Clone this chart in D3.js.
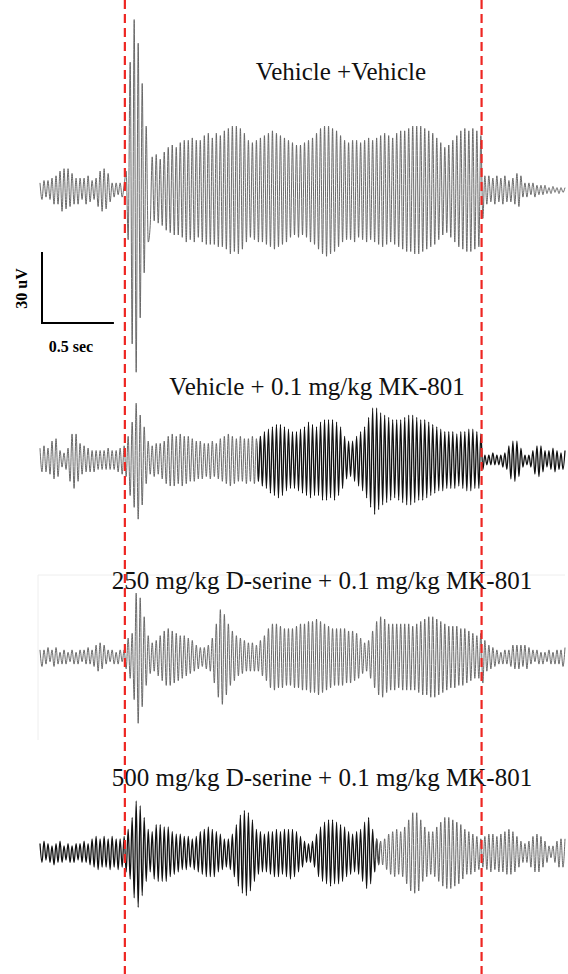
<!DOCTYPE html>
<html>
<head>
<meta charset="utf-8">
<script src="https://cdn.jsdelivr.net/npm/d3@7"></script>
<style>
  html, body { margin: 0; padding: 0; background: #fff; }
  svg { display: block; }
</style>
</head>
<body>
<svg id="chart" width="568" height="974"></svg>
<script>
// Recording window and stimulus timing (seconds)
const windowStart = 0;
const windowEnd = 3.65;
const stimOn = 0.59;
const stimOff = 3.07;

// Scale bar values
const scaleBarVolt = 30;   // uV
const scaleBarTime = 0.5;  // sec
const scaleBarVoltLabel = "30 uV";
const scaleBarTimeLabel = "0.5 sec";

const titles = [
  "Vehicle +Vehicle",
  "Vehicle + 0.1 mg/kg MK-801",
  "250 mg/kg D-serine + 0.1 mg/kg MK-801",
  "500 mg/kg D-serine + 0.1 mg/kg MK-801"
];

// Successive peaks and troughs of each EEG trace (uV), evenly spaced over the window
const vehVeh = [
  3,-4,4,-3,4,-4, 5,-6,6,-6, 8,-9,9,-8,9,-7,7, -6,5,-6,5,
  -4,5,-6,6,-5,4,-4,5, -7,8,-9,9,-8,7,-5, 3,-3,3,-2,3,-3,2,
  8,-21, 54,-65,72,-77,62,-54,45,-35,27,-22,
  -15,14,-13,15,-14,13,-15,16, -17,18,-18,19,-19,18,-19,20,
  -20,21,-22,21,-21,22,-22,21,-20,21, -22,23,-23,24,-23,22,-23,24,-24,23,-24,25,
  -25,26,-27,27,-26,27,-27,26,-25,24, -22,21,-20,20,-21,21,-22,22,-22,23,
  -23,24,-24,25,-25,24,-24,23,-23,22,-22,21,-20,
  20,-19,19,-20,19,-19,20,-20,21,-22,22,-23,
  24,-25,26,-27,27,-28,27,-27,26,-26,25,-24,23,
  -22,21,-21,20,-21,21,-22,21,-20,20,-21,21,-22,22,-21,21,-22,22,-23,23,
  -24,24,-23,23,-22,22,-23,24,-24,25,
  -25,25,-26,26,-26,27,-27,27,-27,27,-26,26,-25,25,-24,24,-23,22,-21,20,
  -19,18,-18,19,-20,21,-22,
  23,-24,25,-25,26,-26,25,-26,26,-25,25,-24,23,
  -12,6,
  -6,6,-5,5,-6,6,-5,5,-6,6,-5,4,-5,5,-6,
  7,-7,6,
  -3,3,-3,3,-2,3,-3,2,-2,2,-2,2,
  -1.5,1,-1.5,1.5,-1,1,-1.5,1,-1,1
];

const vehMK = [
  5,-5,6,-5,5,-6, 8,-8,9,-7, 4,-3,3,-4,5, -9,11,-12,11,-9,
  7,-6,6,-5,5,-5,4,-5,4,-4,4, -4,4,-4,5,-4,4,-4,4,-5,5, -6,6,-7,
  10,-15,16,-20,24,-25,19,-19,14,-10,8,
  -6,6,-7,7,-6,7,-8,8,
  -10,10,-11,11,-11,10,-10,11,-11,10,-10,10,-9,9,-9,8,-8,8,
  -8,7,-7,7,-8,8,-7,7,-8,9,-9,10,
  -10,11,-11,10,-10,
  9,-9,10,-9,9,-10,9,-9,10,-10,9,-9,10,
  -11,12,-12,13,-14,14,-15,15,-16,15,-15,14,-13,13,-12,12,-12,12,-13,13,
  -14,14,-15,16,-16,15,-15,14,-15,
  16,-17,17,-17,17,-16,17,-17,16,-15,14,-12,10,
  -8,8,-7,8,-9,10,
  -11,12,-13,14,-16,18,-20,22,
  -23,22,-21,20,-19,19,
  -18,18,-17,17,-16,17,-17,17,
  -18,18,-19,19,-19,19,-18,18,-17,17,-17,17,
  -16,16,-15,15,-14,14,-13,13,
  -13,12,-12,12,-12,12,-12,11,-11,12,
  -12,12,-13,13,-13,13,-12,12,-12,11,
  -4,
  2,-2,2,-2,3,-2,2,-2,2,-3,3,
  -4,6,-8,8,-9,8,-7,5,
  -3,2,-2,2,-3,
  4,-6,6,-7,6,-5,4,
  -3,4,-4,5,-5,4,-4,3,-4,4
];

const dser250MK = [
  3,-4,3,-3,4,-2,3,-4,4,-3,2,-3,3,-3,2,-2,3,-3,2,-3,3,-2,3,-3,4,-3,3,-4,
  5,-6,6,-5,5,
  -3,3,-2,3,-3,2,-3,3,-2,3,
  -5,8,-9,10,
  -18,27,-28,25,-21,17,-12,9,
  -7,6,-6,7,-8,9,
  -10,11,-12,12,-12,11,-11,
  10,-10,9,-9,9,-8,8,-7,7,-6,
  5,-5,4,-4,4,-5,5,-6,
  8,-11,14,-17,20,-20,18,
  -16,14,-12,11,-10,9,-8,8,-7,7,
  -6,6,-6,6,-6,5,-6,7,-8,9,
  -10,12,-13,14,-14,14,-13,13,-13,12,-12,12,-12,
  12,-13,13,-13,14,-14,14,-14,15,-15,
  15,-15,16,-16,15,-15,14,-14,13,-13,
  12,-12,12,-12,12,-12,12,-11,11,-11,11,-10,10,-9,8,
  -7,6,-6,7,-9,
  11,-13,15,-16,17,-17,16,-15,
  14,-14,14,-14,14,-13,14,-14,14,-14,14,-14,13,-14,14,-15,15,
  -16,16,-16,17,-17,17,-17,16,-16,15,
  -15,14,-14,13,-13,13,-13,13,-12,12,-12,12,-11,11,-10,
  10,-9,9,-9,10,-11,
  7,-6,5,-5,4,-4,
  3,-3,2,-3,3,-3,3,-4,
  5,-5,5,-5,5,-4,5,-5,4,-3,
  3,-2,3,-3,2,-3,2,-2,3,-3,2,-3,3,-3,3,
  -4,4
];

const dser500MK = [
  4,-4,5,-3,4,-4,3,-5,4,-4,5,-4,3,-3,4,-4,3,-4,4,-3,4,-4,5,-4,4,
  -5,6,-6,7,-7,6,-6,7,
  -6,6,-7,7,-6,6,-7,6,-6,7,
  -8,10,-11,15,-19,
  22,-23,20,-18,15,-12,10,
  -8,9,
  -11,12,-12,12,-12,11,-12,11,-10,
  9,-9,8,-8,8,-7,7,-7,7,-6,6,-7,7,-8,9,
  -9,10,-10,11,-10,10,-10,9,-8,8,
  -7,6,-6,6,-7,8,-10,
  12,-14,16,-17,18,-18,17,-16,
  14,-12,10,-9,9,-8,8,
  -8,9,-9,9,-10,10,-10,9,-9,10,-10,10,-11,10,-10,9,-8,7,
  -6,5,-4,4,-4,5,-6,
  8,-10,11,-12,13,-13,14,-14,14,-13,13,-13,12,-12,11,
  -10,9,-9,8,-8,9,-9,10,
  -12,13,-15,15,-13,10,
  -8,6,-5,5,-5,6,
  -7,8,-9,9,-10,10,-9,9,-10,11,
  -13,14,-16,17,-17,17,-16,14,
  -12,11,-10,9,-9,9,-10,11,-12,
  13,-14,15,-15,15,-15,14,-14,13,-13,12,
  -11,10,-9,9,-9,8,-8,7,-7,6,
  -6,7,-7,8,-8,8,-7,7,-8,8,-8,
  9,-9,10,-9,9,-8,7,-6,
  5,-4,4,-4,5,-6,
  7,-8,8,-8,7,-6,5,
  -4,3,-2,3,
  -4,5,-6,6,-6,6
];

const seriesList = [vehVeh, vehMK, dser250MK, dser500MK];

// ---- layout and styling ----
const width = 568, height = 974;
const plotLeft = 40, plotRight = 565;
const baselines = [190, 460, 657, 853];
const titleCenters = [341, 317, 322, 322];
const titleBaselines = [80, 395, 589, 786];
const pxPerScaleBarVolt = 71;
const serif = "'Liberation Serif', 'Times New Roman', serif";

const grey = "#626262", dark = "#111";
// colour bands along time for each trace: [from, to, colour, width]
const traceInk = [
  [[windowStart, windowEnd, grey, 0.95]],
  [[windowStart, 1.51, grey, 0.95], [1.51, windowEnd, dark, 1.3]],
  [[windowStart, windowEnd, grey, 0.95]],
  [[windowStart, 2.33, dark, 1.3], [2.33, windowEnd, grey, 0.95]]
];

const svg = d3.select("#chart");

const x = d3.scaleLinear().domain([windowStart, windowEnd]).range([plotLeft, plotRight]);

// faint frame around the third panel
svg.append("path")
  .attr("d", `M38,740 L38,575 L565,575`)
  .attr("fill", "none")
  .attr("stroke", "#eeeeee")
  .attr("stroke-width", 1);

const defs = svg.append("defs");

seriesList.forEach((vals, k) => {
  const base = baselines[k];
  const y = d3.scaleLinear()
    .domain([-scaleBarVolt, scaleBarVolt])
    .range([base + pxPerScaleBarVolt, base - pxPerScaleBarVolt]);
  const step = (windowEnd - windowStart) / (vals.length - 1);
  const pts = vals.map((v, i) => [windowStart + i * step, v]);
  const line = d3.line()
    .x(d => x(d[0]))
    .y(d => y(d[1]))
    .curve(d3.curveMonotoneX);

  traceInk[k].forEach(([t0, t1, col, w], j) => {
    const id = `clip-${k}-${j}`;
    defs.append("clipPath").attr("id", id)
      .append("rect")
      .attr("x", x(t0) - (j === 0 ? 5 : 0))
      .attr("y", 0)
      .attr("width", x(t1) - x(t0) + (j === 0 ? 5 : 0) + 5)
      .attr("height", height);
    svg.append("path")
      .datum(pts)
      .attr("clip-path", `url(#${id})`)
      .attr("d", line)
      .attr("fill", "none")
      .attr("stroke", col)
      .attr("stroke-width", w)
      .attr("stroke-linejoin", "round");
  });

  svg.append("text")
    .attr("x", titleCenters[k])
    .attr("y", titleBaselines[k])
    .attr("text-anchor", "middle")
    .attr("font-family", serif)
    .attr("font-size", 25)
    .attr("fill", "#111")
    .text(titles[k]);
});

// scale bar (same vertical scale as the traces)
const yBar = d3.scaleLinear().domain([0, scaleBarVolt]).range([323, 323 - pxPerScaleBarVolt]);
const barX0 = 42;
const barG = svg.append("g");
barG.append("path")
  .attr("d", `M${barX0},${yBar(scaleBarVolt)} L${barX0},${yBar(0)} L${barX0 + x(windowStart + scaleBarTime) - x(windowStart)},${yBar(0)}`)
  .attr("fill", "none")
  .attr("stroke", "#000")
  .attr("stroke-width", 2);
barG.append("text")
  .attr("transform", `translate(27,${(yBar(0) + yBar(scaleBarVolt)) / 2 + 1}) rotate(-90)`)
  .attr("text-anchor", "middle")
  .attr("font-family", serif)
  .attr("font-weight", "bold")
  .attr("font-size", 16)
  .text(scaleBarVoltLabel);
barG.append("text")
  .attr("x", 71)
  .attr("y", 352)
  .attr("text-anchor", "middle")
  .attr("font-family", serif)
  .attr("font-weight", "bold")
  .attr("font-size", 16)
  .text(scaleBarTimeLabel);

// stimulus on / off markers
svg.selectAll("line.stim")
  .data([stimOn, stimOff])
  .join("line")
  .attr("class", "stim")
  .attr("x1", d => x(d)).attr("x2", d => x(d))
  .attr("y1", 0).attr("y2", height)
  .attr("stroke", "#ee2622")
  .attr("stroke-width", 2.2)
  .attr("stroke-dasharray", "9,5");
</script>
</body>
</html>
